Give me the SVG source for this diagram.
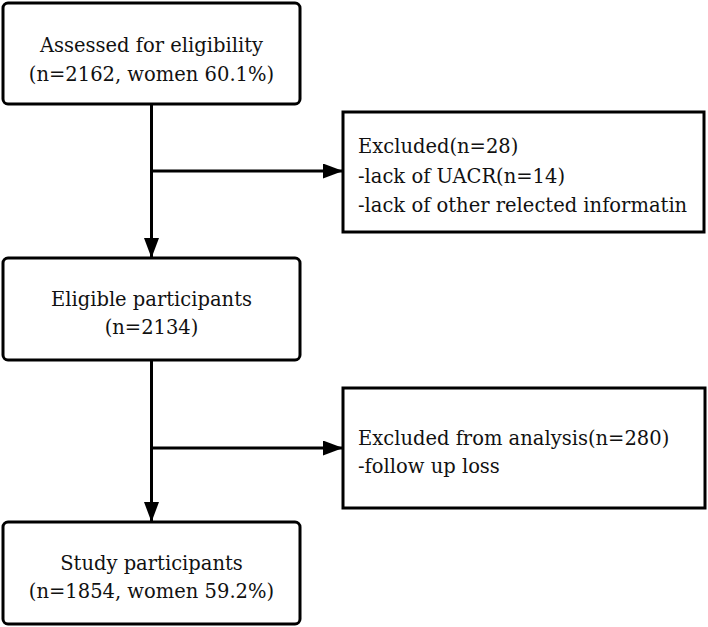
<svg xmlns="http://www.w3.org/2000/svg" width="708" height="627" viewBox="0 0 708 627">
<style>
.box{fill:#fff;stroke:#000;stroke-width:3}
.ln{stroke:#000;stroke-width:3;fill:none}
.t{font-family:'DejaVu Serif','Liberation Serif',serif;font-size:19.5px;fill:#111}
</style>
<defs>
<marker id="ah" markerWidth="20" markerHeight="15" refX="20" refY="7.5" orient="auto" markerUnits="userSpaceOnUse">
<path d="M0,0 L20,7.5 L0,15 Z" fill="#000"/>
</marker>
</defs>
<rect width="708" height="627" fill="#fff"/>
<g id="connectors">
<line class="ln" x1="151.5" y1="104" x2="151.5" y2="258" marker-end="url(#ah)"/>
<line class="ln" x1="151.5" y1="171" x2="343" y2="171" marker-end="url(#ah)"/>
<line class="ln" x1="151.5" y1="360" x2="151.5" y2="522" marker-end="url(#ah)"/>
<line class="ln" x1="151.5" y1="448" x2="343" y2="448" marker-end="url(#ah)"/>
</g>
<g class="t">
<g id="assessed">
<rect class="box" x="3" y="3" width="297" height="101" rx="5"/>
<text x="151.5" y="52" text-anchor="middle">Assessed for eligibility</text>
<text x="151.5" y="81" text-anchor="middle">(n=2162, women 60.1%)</text>
</g>
<g id="excluded1">
<rect class="box" x="343" y="112" width="361" height="120"/>
<text x="358" y="153">Excluded(n=28)</text>
<text x="358" y="183">-lack of UACR(n=14)</text>
<text x="358" y="212">-lack of other relected informatin</text>
</g>
<g id="eligible">
<rect class="box" x="3" y="258" width="297" height="102" rx="5"/>
<text x="151.5" y="306" text-anchor="middle">Eligible participants</text>
<text x="151.5" y="334" text-anchor="middle">(n=2134)</text>
</g>
<g id="excluded2">
<rect class="box" x="343" y="388" width="362" height="120"/>
<text x="358" y="445">Excluded from analysis(n=280)</text>
<text x="358" y="473">-follow up loss</text>
</g>
<g id="study">
<rect class="box" x="3" y="522" width="297" height="102" rx="5"/>
<text x="151.5" y="570" text-anchor="middle">Study participants</text>
<text x="151.5" y="598" text-anchor="middle">(n=1854, women 59.2%)</text>
</g>
</g>
</svg>
